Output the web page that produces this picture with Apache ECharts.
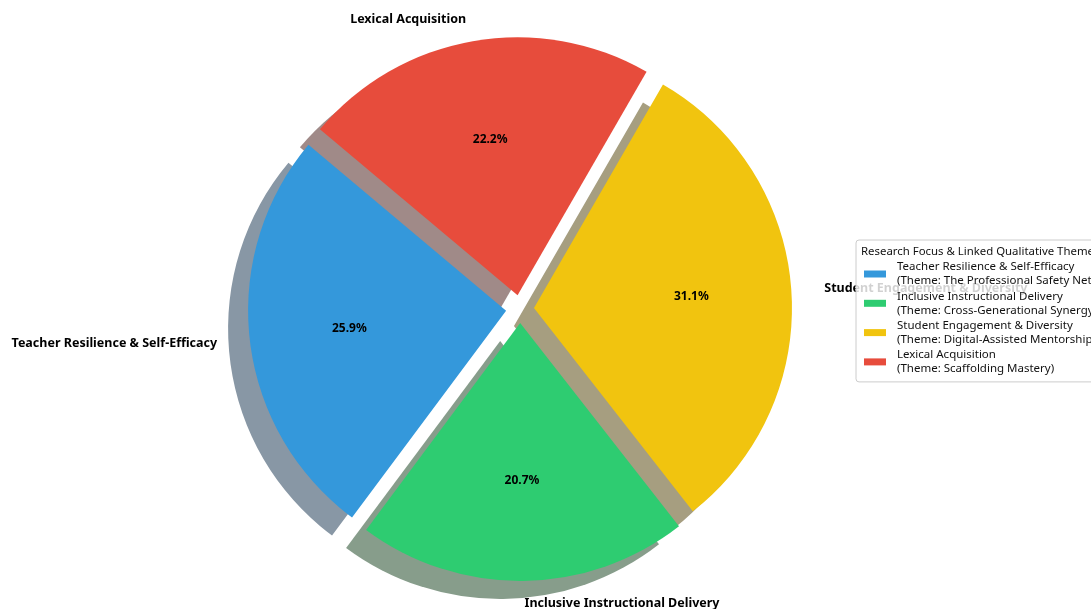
<!DOCTYPE html>
<html>
<head>
<meta charset="utf-8">
<script src="https://cdn.jsdelivr.net/npm/echarts@6/dist/echarts.min.js"></script>
<style>
html,body{margin:0;padding:0;background:#fff;}
#chart{width:1091px;height:609px;}
</style>
</head>
<body>
<div id="chart"></div>
<script>
const categories = [
  'Teacher Resilience & Self-Efficacy',
  'Inclusive Instructional Delivery',
  'Student Engagement & Diversity',
  'Lexical Acquisition'
];
const themes = [
  'The Professional Safety Net',
  'Cross-Generational Synergy',
  'Digital-Assisted Mentorship',
  'Scaffolding Mastery'
];
const values = [35, 28, 42, 30];
const colors = ['#3498db', '#2ecc71', '#f1c40f', '#e74c3c'];
const shadowColors = ['#8897a5', '#879d8b', '#a69e80', '#a08a88'];
const legendTitle = 'Research Focus & Linked Qualitative Themes';

const START = 140;
const CX = 520, CY = 309, R = 258, EXPLODE = 14;
const SDX = -20, SDY = 18;
const FONT = 'Noto Sans';
const total = values.reduce((a, b) => a + b, 0);

// horizontal label correction (reference pie is slightly wider than tall)
function midAngle(i) {
  let acc = 0;
  for (let k = 0; k < i; k++) acc += values[k];
  return (START + (acc + values[i] / 2) / total * 360) * Math.PI / 180;
}

function mkData(cols, withLabel) {
  return categories.map((c, i) => {
    const d = {
      name: c, value: values[i], selected: true,
      itemStyle: { color: cols ? cols[i] : 'rgba(0,0,0,0)' }
    };
    if (withLabel) {
      d.label = { distanceToLabelLine: 1 + 10 * Math.abs(Math.cos(midAngle(i))) };
    }
    return d;
  });
}

const common = {
  type: 'pie',
  startAngle: START,
  clockwise: false,
  selectedMode: 'multiple',
  selectedOffset: EXPLODE,
  avoidLabelOverlap: false,
  animation: false,
  emphasis: { disabled: true },
  silent: true
};

const chart = echarts.init(document.getElementById('chart'), null, { renderer: 'canvas' });
chart.setOption({
  backgroundColor: '#ffffff',
  animation: false,
  title: {
    text: legendTitle,
    left: 856, top: 241,
    z: 10,
    textStyle: { fontFamily: FONT, fontSize: 11.4, fontWeight: 'normal', color: '#111' }
  },
  legend: {
    orient: 'vertical',
    left: 856, top: 240,
    z: 6,
    padding: [20, 8, 6, 8],
    backgroundColor: 'rgba(255,255,255,0.82)',
    borderColor: '#cccccc',
    borderWidth: 1,
    borderRadius: 3,
    itemWidth: 22,
    itemHeight: 7,
    itemGap: 1.3,
    icon: 'rect',
    selectedMode: false,
    data: categories.map((c, i) => ({ name: c, itemStyle: { color: colors[i] } })),
    formatter: function (name) {
      const i = categories.indexOf(name);
      return name + '\n(Theme: ' + themes[i] + ')';
    },
    textStyle: { fontFamily: FONT, fontSize: 11.5, lineHeight: 14, color: '#111', padding: [0, 0, 0, 6] }
  },
  series: [
    Object.assign({}, common, {
      name: 'main',
      z: 3,
      center: [CX, CY],
      radius: [0, R],
      data: mkData(colors, true),
      label: {
        show: true,
        position: 'outside',
        formatter: '{b}',
        fontFamily: FONT,
        fontSize: 12.5,
        fontWeight: 'bold',
        color: '#000'
      },
      labelLine: { show: false, length: 22, length2: 0 }
    }),
    Object.assign({}, common, {
      name: 'shadow',
      z: 1,
      center: [CX + SDX, CY + SDY],
      radius: [0, R],
      data: mkData(shadowColors, false),
      label: { show: false },
      labelLine: { show: false }
    }),
    Object.assign({}, common, {
      name: 'pct',
      z: 4,
      center: [CX, CY],
      radius: [R * 0.2, R],
      data: mkData(null, false),
      label: {
        show: true,
        position: 'inside',
        formatter: function (p) { return (p.value / total * 100).toFixed(1) + '%'; },
        fontFamily: FONT,
        fontSize: 12,
        fontWeight: 'bold',
        color: '#000'
      },
      labelLine: { show: false }
    })
  ]
});
</script>
</body>
</html>
